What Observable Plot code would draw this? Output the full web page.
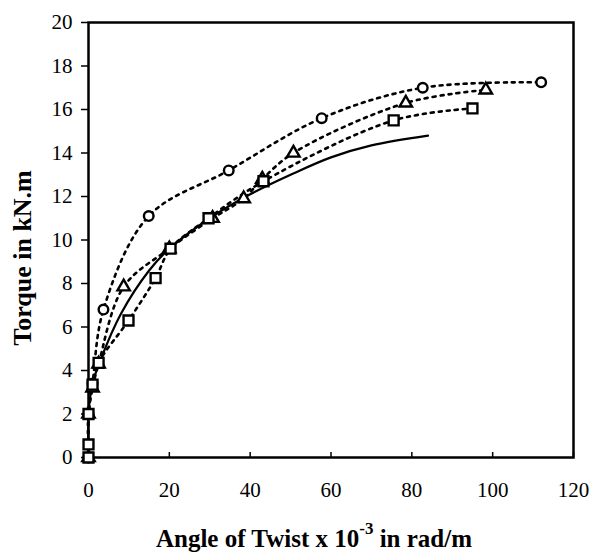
<!DOCTYPE html>
<html>
<head>
<meta charset="utf-8">
<script src="https://cdn.jsdelivr.net/npm/d3@7"></script>
<script src="https://cdn.jsdelivr.net/npm/@observablehq/plot@0.6"></script>
<style>
  html, body { margin: 0; padding: 0; background: #fff; }
  #chart { width: 591px; height: 553px; }
  #chart svg text { font-family: "Liberation Serif", "Times New Roman", serif !important; }
</style>
</head>
<body>
<div id="chart"></div>
<script>
// Series (x: angle of twist x10^-3 rad/m, y: torque kN.m)
const circleX = [0, 0, 1, 3.7, 14.9, 34.7, 57.7, 82.7, 112];
const circleY = [0, 2, 3.4, 6.8, 11.1, 13.2, 15.6, 17.0, 17.25];

const triangleX = [0, 0, 1, 2.5, 8.7, 20, 30.7, 38.4, 43, 50.7, 78.5, 98.3];
const triangleY = [0, 2, 3.2, 4.3, 7.85, 9.6, 11.0, 11.9, 12.8, 14.0, 16.3, 16.9];

const squareX = [0, 0, 0, 1, 2.5, 9.9, 16.6, 20.3, 29.7, 43.3, 75.5, 95];
const squareY = [0, 0.6, 2, 3.35, 4.35, 6.3, 8.25, 9.6, 11.0, 12.7, 15.5, 16.05];

const solidX = [0, 0, 1, 3, 8, 15, 20, 30, 40, 50, 60, 70, 84];
const solidY = [0, 2, 3.4, 4.5, 6.6, 8.6, 9.6, 11.0, 12.1, 13.0, 13.8, 14.35, 14.8];

const xTicks = [0, 20, 40, 60, 80, 100, 120];
const yTicks = [0, 2, 4, 6, 8, 10, 12, 14, 16, 18, 20];

const xTitle = "Angle of Twist x 10";
const xTitleSup = "-3";
const xTitleEnd = " in rad/m";
const yTitle = "Torque in kN.m";

const toRows = (xs, ys) => xs.map((x, i) => ({x, y: ys[i]}));
const circles = toRows(circleX, circleY);
const triangles = toRows(triangleX, triangleY);
const squares = toRows(squareX, squareY);
const solid = toRows(solidX, solidY);

const font = "Liberation Serif, Times New Roman, serif";

const chart = Plot.plot({
  width: 591,
  height: 553,
  marginLeft: 88,
  marginRight: 18,
  marginTop: 22,
  marginBottom: 96,
  style: {fontFamily: font, fontSize: "21px", color: "#000", background: "#fff"},
  x: {domain: [0, 120], label: null},
  y: {domain: [0, 20], label: null},
  marks: [
    Plot.axisX({ticks: xTicks, tickSize: -5, tickPadding: 30, fontSize: 21, label: null, strokeWidth: 1.5}),
    Plot.axisY({ticks: yTicks, tickSize: 7, tickPadding: 9, fontSize: 21, label: null, strokeWidth: 1.5}),
    Plot.frame({stroke: "#000", strokeWidth: 2.5}),
    Plot.line(solid, {x: "x", y: "y", curve: "catmull-rom", stroke: "#000", strokeWidth: 2.2}),
    Plot.line(circles, {x: "x", y: "y", curve: "catmull-rom", stroke: "#000", strokeWidth: 2.6, strokeDasharray: "3,5"}),
    Plot.line(triangles, {x: "x", y: "y", curve: "catmull-rom", stroke: "#000", strokeWidth: 2.6, strokeDasharray: "3,5"}),
    Plot.line(squares, {x: "x", y: "y", curve: "catmull-rom", stroke: "#000", strokeWidth: 2.6, strokeDasharray: "3,5"}),
    Plot.dot(circles, {x: "x", y: "y", symbol: "circle", r: 4.8, fill: "#fff", stroke: "#000", strokeWidth: 2.4}),
    Plot.dot(triangles, {x: "x", y: "y", symbol: "triangle", r: 4.6, fill: "#fff", stroke: "#000", strokeWidth: 2.4}),
    Plot.dot(squares, {x: "x", y: "y", symbol: "square", r: 5.6, fill: "#fff", stroke: "#000", strokeWidth: 2.4})
  ]
});

document.getElementById("chart").appendChild(chart);

const svg = d3.select(chart);
svg.selectAll("text").attr("font-family", font);

const xt = svg.append("text")
  .attr("x", 314).attr("y", 547)
  .attr("text-anchor", "middle")
  .attr("font-family", font)
  .attr("font-weight", "bold")
  .attr("font-size", 25)
  .attr("fill", "#000");
xt.append("tspan").text(xTitle);
xt.append("tspan").attr("dy", -13).attr("font-size", 17).text(xTitleSup);
xt.append("tspan").attr("dy", 13).text(xTitleEnd);

svg.append("text")
  .attr("transform", "translate(31,258) rotate(-90)")
  .attr("text-anchor", "middle")
  .attr("font-family", font)
  .attr("font-weight", "bold")
  .attr("font-size", 26)
  .attr("fill", "#000")
  .text(yTitle);
</script>
</body>
</html>
